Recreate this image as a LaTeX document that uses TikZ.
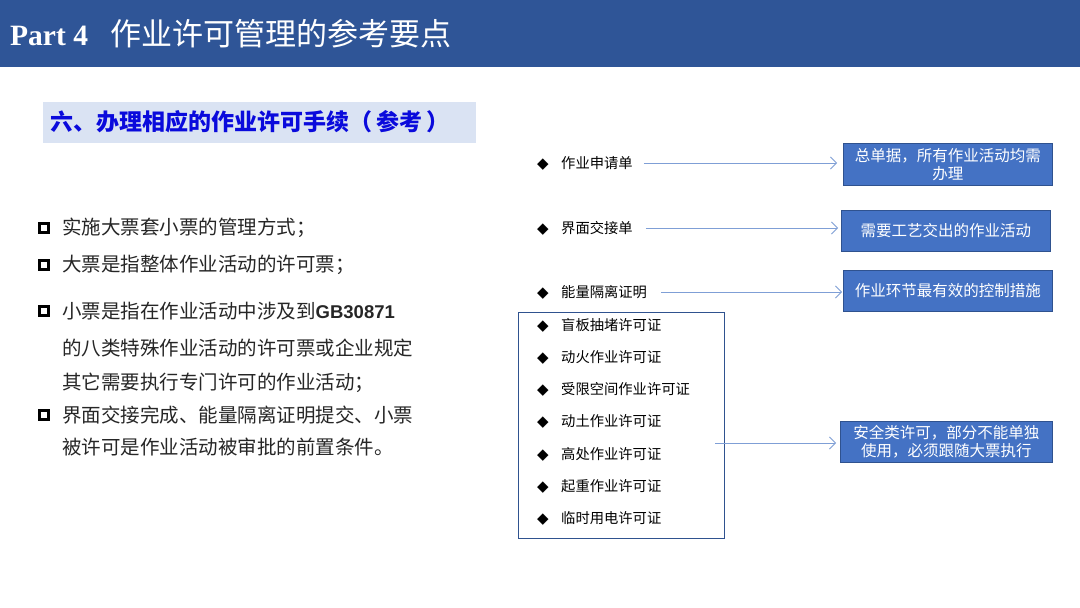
\documentclass[tikz,border=0pt]{standalone}
\usepackage{fontspec}
\setmainfont{Liberation Serif}
\newfontfamily\cjk{Noto Sans CJK SC}
\newfontfamily\arial{Liberation Sans}
\newfontfamily\djv{DejaVu Sans}
\usetikzlibrary{arrows.meta}
\definecolor{hdr}{HTML}{2F5597}
\definecolor{subbg}{HTML}{DAE3F3}
\definecolor{subfg}{HTML}{0A0ADC}
\definecolor{boxfill}{HTML}{4472C4}
\definecolor{boxedge}{HTML}{2F528F}
\definecolor{arrc}{HTML}{7F9FD6}
\definecolor{txt}{HTML}{262626}
\tikzset{
  lefttxt/.style={anchor=west,inner sep=0pt,font=\cjk\fontsize{19.5}{22}\selectfont,text=txt},
  chk/.style={draw=black,line width=3pt,minimum size=9pt,inner sep=0pt},
  rtxt/.style={anchor=west,inner sep=0pt,font=\cjk\fontsize{14.3}{16}\selectfont,text=black},
  dia/.style={anchor=center,inner sep=0pt,yshift=-1.5pt,font=\djv\fontsize{15}{16}\selectfont},
  bluebox/.style={draw=boxedge,line width=0.8pt,fill=boxfill,text=white,align=center,
     font=\cjk\fontsize{15.5}{20}\selectfont,inner sep=0pt},
  arr/.style={draw=arrc,line width=0.8pt,-{Straight Barb[length=6pt,width=12pt,line width=0.8pt]}}
}
\begin{document}
\begin{tikzpicture}[x=1pt,y=-1pt]
\useasboundingbox (0,0) rectangle (1080,608);
\fill[white] (0,0) rectangle (1080,608);
% header
\fill[hdr] (0,0) rectangle (1080,67);
\node[anchor=base west,inner sep=0pt,text=white,font=\bfseries\fontsize{29.5}{32}\selectfont] (p4) at (10,45) {Part 4};
\node[anchor=west,inner sep=0pt,text=white,font=\cjk\fontsize{31}{34}\selectfont] (title) at (110,34) {作业许可管理的参考要点};
% subtitle
\node[anchor=north west,fill=subbg,minimum width=433pt,minimum height=41pt,inner sep=0pt] (subbox) at (43,102) {};
\node[anchor=west,inner sep=0pt,text=subfg,font=\cjk\bfseries\fontsize{23}{26}\selectfont] (sub) at (50,122) {六、办理相应的作业许可手续（\hspace{4pt}参考\hspace{4pt}）};
% left bullets
\node[chk] (c1) at (44,228) {};
\node[lefttxt] (l1) at (62,228) {实施大票套小票的管理方式；};
\node[chk] (c2) at (44,265) {};
\node[lefttxt] (l2) at (62,265) {大票是指整体作业活动的许可票；};
\node[chk] (c3) at (44,311) {};
\node[lefttxt] (l3) at (62,311) {小票是指在作业活动中涉及到{\arial\bfseries\fontsize{18.5}{22}\selectfont GB30871}};
\node[lefttxt] (l3b) at (62,348) {的八类特殊作业活动的许可票或企业规定};
\node[lefttxt] (l3c) at (62,383) {其它需要执行专门许可的作业活动；};
\node[chk] (c4) at (44,415) {};
\node[lefttxt] (l4) at (62,415) {界面交接完成、能量隔离证明提交、小票};
\node[lefttxt] (l4b) at (62,447) {被许可是作业活动被审批的前置条件。};
% right items
\node[dia] (d1) at (543,163) {◆};
\node[rtxt] (r1) at (561,163) {作业申请单};
\node[dia] (d2) at (543,228) {◆};
\node[rtxt] (r2) at (561,228) {界面交接单};
\node[dia] (d3) at (543,292) {◆};
\node[rtxt] (r3) at (561,292) {能量隔离证明};
% list box
\node[draw=boxedge,line width=0.8pt,anchor=north west,minimum width=206pt,minimum height=226pt,inner sep=0pt] (list) at (518,312) {};
\foreach \i/\y/\t in {1/325/盲板抽堵许可证,2/357/动火作业许可证,3/389/受限空间作业许可证,4/421/动土作业许可证,5/454/高处作业许可证,6/486/起重作业许可证,7/518/临时用电许可证}{
  \node[dia] (ld\i) at (543,\y) {◆};
  \node[rtxt] (lt\i) at (561,\y) {\t};
}
% blue boxes
\node[bluebox,anchor=north west,minimum width=209pt,minimum height=42pt,text width=200pt] (b1) at (843,143) {总单据，所有作业活动均需\\[-2pt]办理};
\node[bluebox,anchor=north west,minimum width=209pt,minimum height=41pt] (b2) at (841,210) {需要工艺交出的作业活动};
\node[bluebox,anchor=north west,minimum width=209pt,minimum height=41pt] (b3) at (843,270) {作业环节最有效的控制措施};
\node[bluebox,anchor=north west,minimum width=212pt,minimum height=41pt,text width=200pt] (b4) at (840,421) {安全类许可，部分不能单独\\[-2pt]使用，必须跟随大票执行};
% arrows
\coordinate (a4s) at (715,443);
\draw[arr] ([xshift=11pt]r1.east) -- ([xshift=-6pt]b1.west |- r1.east);
\draw[arr] ([xshift=13pt]r2.east) -- ([xshift=-3pt]b2.west |- r2.east);
\draw[arr] ([xshift=14pt]r3.east) -- ([xshift=-1pt]b3.west |- r3.east);
\draw[arr] (a4s) -- ([xshift=-4pt]b4.west |- a4s);
\end{tikzpicture}
\end{document}
